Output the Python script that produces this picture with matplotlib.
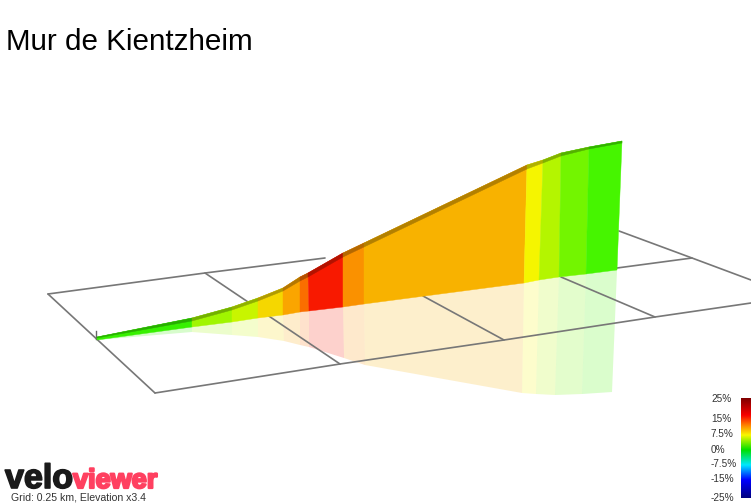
import numpy as np
import matplotlib
matplotlib.use('Agg')
import matplotlib.pyplot as plt
import matplotlib.patheffects as pe
from matplotlib.colors import LinearSegmentedColormap, to_rgb

plt.rcParams['font.family'] = ['Liberation Sans', 'DejaVu Sans']

# wall outline in image pixels
top_x = [97, 192, 232, 258, 283, 300, 308, 343, 364, 527, 543, 561, 589, 622]
top_y = [337, 318, 307, 298, 288, 277, 273, 253, 243, 165, 160, 153, 147, 141]
ridge = [1, 3, 3, 3, 3, 4, 4, 4, 4, 4, 3, 3, 2, 2]
base_x = [97, 192, 232, 258, 283, 300, 309, 343, 364, 524, 539, 559, 586, 617]
base_y = [340, 327, 322, 318, 315, 312, 311, 307, 304, 283, 280, 277, 274, 270]
refl_x = [97, 192, 232, 258, 284, 300, 309, 344, 365, 522, 536, 555, 582, 612]
refl_y = [340, 332, 335, 337, 341, 345, 347, 358, 365, 393, 394, 395, 394, 392]
seg_colors = ['#37f000', '#a0f500', '#c8f500', '#f5d700', '#faa500', '#fa6e00',
              '#f81900', '#fa9100', '#f8b200', '#f5f500', '#b4f500', '#73f500', '#46f500']

# ground grid
grid_lines = [
    ([48, 205, 325], [294, 273, 258]),
    ([48, 155], [294, 393]),
    ([155, 340, 504, 655, 751], [393, 364, 340, 317, 303]),
    ([205, 340], [273, 364]),
    ([423, 504], [296, 340]),
    ([561, 655], [277, 317]),
    ([619, 692, 751], [231, 258, 280]),
    ([617, 692], [268, 258]),
]
start_tick_x = [96, 96]
start_tick_y = [331, 339]

# gradient legend
grade_labels = ['25%', '15%', '7.5%', '0%', '-7.5%', '-15%', '-25%']
grade_label_y = [399, 419, 434, 450, 464, 479, 498]
bar_stops = [0.0, 0.18, 0.33, 0.48, 0.63, 0.73, 0.83, 1.0]
bar_colors = ['#00007f', '#0000ff', '#00e8ff', '#00e000',
              '#f8f800', '#ff8000', '#f80000', '#7f0000']

fig = plt.figure(figsize=(7.51, 5.03), dpi=100)
ax = fig.add_axes([0, 0, 1, 1])
ax.set_xlim(0, 751)
ax.set_ylim(503, 0)
ax.axis('off')

for i, c in enumerate(seg_colors):
    # faded reflection on the ground
    ax.fill([base_x[i], base_x[i + 1], refl_x[i + 1], refl_x[i]],
            [base_y[i], base_y[i + 1], refl_y[i + 1], refl_y[i]],
            color=c, alpha=0.2, lw=0, zorder=1)

for xs, ys in grid_lines:
    ax.plot(xs, ys, color='#777777', lw=1.2, zorder=2, solid_capstyle='round')
ax.plot(start_tick_x, start_tick_y, color='#666666', lw=1, zorder=2)

for i, c in enumerate(seg_colors):
    ax.fill([top_x[i], top_x[i + 1], base_x[i + 1], base_x[i]],
            [top_y[i], top_y[i + 1], base_y[i + 1], base_y[i]],
            color=c, lw=0.3, zorder=3)
    # darker road surface along the top
    dark = tuple(v * 0.72 for v in to_rgb(c))
    ax.fill([top_x[i], top_x[i + 1], top_x[i + 1], top_x[i]],
            [top_y[i], top_y[i + 1], top_y[i + 1] + ridge[i + 1], top_y[i] + ridge[i]],
            color=dark, lw=0.3, zorder=4)

ax.text(6, 50, 'Mur de Kientzheim', fontsize=21.3, color='black', ha='left', va='baseline')

# colour bar
cmap = LinearSegmentedColormap.from_list('grade', list(zip(bar_stops, bar_colors)))
grad = np.linspace(1, 0, 256).reshape(-1, 1)
ax.imshow(grad, cmap=cmap, extent=[741, 751, 498, 398], aspect='auto', zorder=5, vmin=0, vmax=1)
ax.set_xlim(0, 751)
ax.set_ylim(503, 0)
for lab, y in zip(grade_labels, grade_label_y):
    ax.text(711, y, lab, fontsize=7.2, color='#333333', ha='left', va='center')

# logo text
ax.text(5, 488, 'velo', fontsize=24.5, fontweight='bold', color='#1a1a1a', ha='left', va='baseline',
        path_effects=[pe.withStroke(linewidth=1.2, foreground='#1a1a1a')])
ax.text(73, 488, 'viewer', fontsize=19.5, fontweight='bold', color='#ff4060', ha='left', va='baseline',
        path_effects=[pe.withStroke(linewidth=1.6, foreground='#ff4060')])
ax.text(11, 498, 'Grid: 0.25 km, Elevation x3.4', fontsize=7.6, color='#333333', ha='left', va='center')

fig.savefig('out.png', dpi=100)
